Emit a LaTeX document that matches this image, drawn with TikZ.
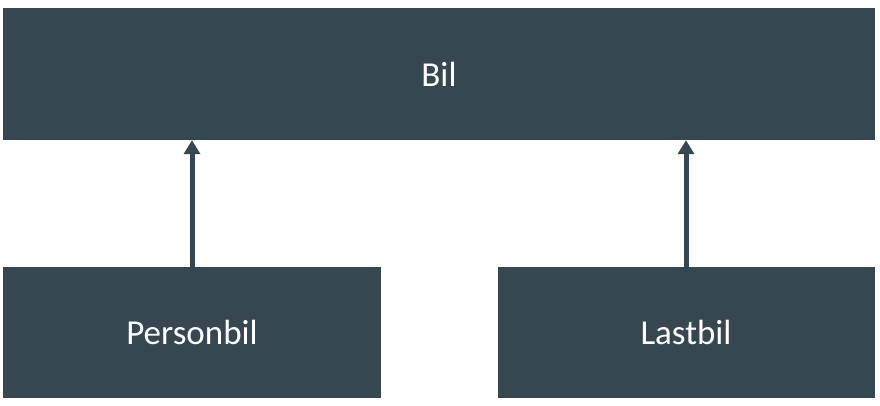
\documentclass[tikz,border=0pt]{standalone}
\usepackage{fontspec}
\setmainfont{Carlito}
\usetikzlibrary{arrows.meta}
\definecolor{slate}{HTML}{37474F}
\begin{document}
\begin{tikzpicture}[x=1pt,y=-1pt,
  box/.style={fill=slate,draw=none,inner sep=0pt,text=white,font=\fontsize{35}{40}\selectfont},
  inh/.style={draw=slate,line width=5pt,-{Triangle[length=14pt,width=16pt]}}]
\useasboundingbox (0,0) rectangle (880,405);
\fill[white] (0,0) rectangle (880,405);
\node[box,minimum width=872pt,minimum height=132pt] (bil) at (439,74) {Bil};
\node[box,minimum width=378pt,minimum height=131pt] (person) at (192,332.5) {Personbil};
\node[box,minimum width=377pt,minimum height=131pt] (last) at (686,332.5) {Lastbil};
\draw[inh] (person.north) -- (bil.south -| person.north);
\draw[inh] (last.north) -- (bil.south -| last.north);
\end{tikzpicture}
\end{document}
